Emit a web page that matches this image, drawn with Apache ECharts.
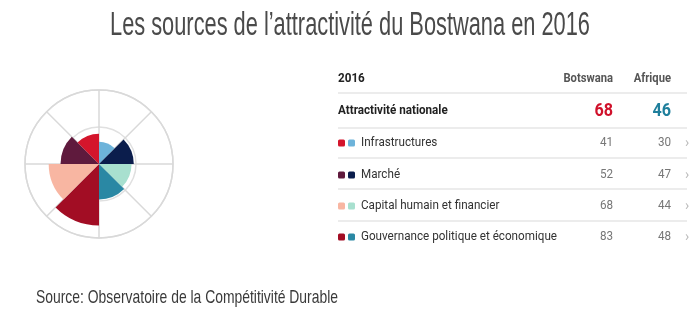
<!DOCTYPE html>
<html lang="fr">
<head>
<meta charset="UTF-8">
<title>Attractivité du Botswana 2016</title>
<script src="https://cdn.jsdelivr.net/npm/echarts@6/dist/echarts.min.js"></script>
<style>html,body{margin:0;padding:0;background:#fff}</style>
</head>
<body>
<div id="main" style="width:700px;height:317px;"></div>
<script>
// valeurs
const piliers = ['Infrastructures', 'Marché', 'Capital humain et financier', 'Gouvernance politique et économique'];
const botswana = [41, 52, 68, 83];
const afrique = [30, 47, 44, 48];
const attractivite = [68, 46]; // Botswana, Afrique
const colonnes = ['Botswana', 'Afrique'];

// couleurs
const coulBots = ['#d4152c', '#5f1a3d', '#f8b6a2', '#a20d24'];
const coulAfr = ['#6db3da', '#0b1d4c', '#a8e0cf', '#2a88a4'];

// secteurs : Afrique à droite (sens horaire), Botswana à gauche
const secteurs = [];
afrique.forEach(function (v, i) {
    secteurs.push({ name: 'Afrique - ' + piliers[i], value: v, itemStyle: { color: coulAfr[i] } });
});
for (let i = botswana.length - 1; i >= 0; i--) {
    secteurs.push({ name: 'Botswana - ' + piliers[i], value: botswana[i], itemStyle: { color: coulBots[i] } });
}

// mesure du texte pour imiter les polices étroites
const ctx = document.createElement('canvas').getContext('2d');
function largeur(txt, size, family, weight) {
    ctx.font = (weight || 'normal') + ' ' + size + 'px ' + family;
    return ctx.measureText(txt).width;
}
const fTitre = '"Liberation Sans Narrow", "Liberation Sans", sans-serif';
const fTable = 'Roboto, sans-serif';

function texte(x, y, txt, o) {
    return {
        type: 'text', x: x, y: y, scaleX: o.scale || 1,
        style: {
            text: txt, fontSize: o.size, fontFamily: o.family || fTable,
            fontWeight: o.weight || 'normal', fill: o.color || '#333',
            align: o.align || 'left', verticalAlign: 'middle'
        }
    };
}

const titre = "Les sources de l’attractivité du Bostwana en 2016";
const source = 'Source: Observatoire de la Compétitivité Durable';
const scTitre = 480 / largeur(titre, 34, fTitre);
const scSource = 302 / largeur(source, 19, fTitre);
const scTable = 196 / largeur(piliers[3], 13, fTable);

const elements = [];
elements.push(texte(350, 26, titre, { size: 34, family: fTitre, color: '#4a4a4a', align: 'center', scale: scTitre }));
elements.push(texte(36, 298, source, { size: 19, family: fTitre, color: '#3a3a3a', scale: scSource }));

// tableau
const xBots = 613, xAfr = 671;
const yLignes = [143, 175, 206, 237];
[93, 128, 158, 189, 221].forEach(function (y) {
    elements.push({ type: 'line', shape: { x1: 338, y1: y, x2: 687, y2: y }, style: { stroke: '#e6e6e6', lineWidth: 1.5 } });
});
elements.push(texte(338, 79, '2016', { size: 13, weight: 'bold', color: '#222', scale: scTable }));
elements.push(texte(xBots, 79, colonnes[0], { size: 12.5, weight: 'bold', color: '#555', align: 'right', scale: scTable }));
elements.push(texte(xAfr, 79, colonnes[1], { size: 12.5, weight: 'bold', color: '#555', align: 'right', scale: scTable }));
elements.push(texte(338, 111, 'Attractivité nationale', { size: 13, weight: 'bold', color: '#222', scale: scTable }));
elements.push(texte(xBots, 111, String(attractivite[0]), { size: 18, weight: 'bold', color: '#d0112b', align: 'right', scale: scTable }));
elements.push(texte(xAfr, 111, String(attractivite[1]), { size: 18, weight: 'bold', color: '#1f7f9c', align: 'right', scale: scTable }));

piliers.forEach(function (p, i) {
    const y = yLignes[i];
    elements.push({ type: 'rect', shape: { x: 338, y: y - 3.5, width: 7, height: 7, r: 1.5 }, style: { fill: coulBots[i] } });
    elements.push({ type: 'rect', shape: { x: 348, y: y - 3.5, width: 7, height: 7, r: 1.5 }, style: { fill: coulAfr[i] } });
    elements.push(texte(361, y, p, { size: 13, color: '#333', scale: scTable }));
    elements.push(texte(xBots, y, String(botswana[i]), { size: 13, color: '#777', align: 'right', scale: scTable }));
    elements.push(texte(xAfr, y, String(afrique[i]), { size: 13, color: '#777', align: 'right', scale: scTable }));
    elements.push(texte(685, y, '›', { size: 14, color: '#bbb' }));
});

const myChart = echarts.init(document.getElementById('main'));
myChart.setOption({
    animation: false,
    polar: { center: [99, 164], radius: [0, 74] },
    angleAxis: {
        type: 'category',
        data: secteurs.map(function (s) { return s.name; }),
        startAngle: 90,
        clockwise: true,
        boundaryGap: true,
        axisLine: { lineStyle: { color: '#d9d9d9', width: 1.5 } },
        axisTick: { show: false },
        axisLabel: { show: false },
        splitLine: { show: true, lineStyle: { color: '#d9d9d9', width: 1.5 } }
    },
    radiusAxis: {
        type: 'value', min: 0, max: 100, interval: 50,
        axisLine: { show: false }, axisTick: { show: false }, axisLabel: { show: false },
        splitLine: { show: true, lineStyle: { color: '#e0e0e0', width: 1.5 } }
    },
    series: [{
        type: 'bar',
        coordinateSystem: 'polar',
        data: secteurs,
        barCategoryGap: '0%'
    }],
    graphic: elements
});
</script>
</body>
</html>
